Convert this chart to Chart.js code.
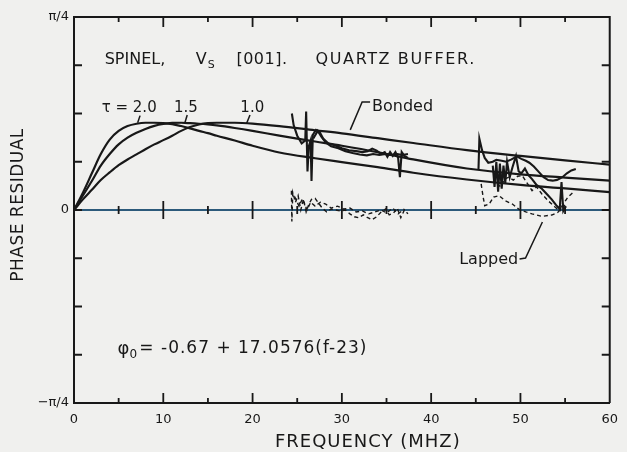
<!DOCTYPE html>
<html>
<head>
<meta charset="utf-8">
<script src="https://cdn.jsdelivr.net/npm/chart.js@4"></script>
<style>
  html, body { margin: 0; padding: 0; background: #f0f0ee; }
  #phaseChart { display: block; }
</style>
</head>
<body>
<canvas id="phaseChart" width="627" height="452"></canvas>
<script>
// phase residual in units of pi/4, frequency in MHz

// fitted curves for three values of tau
const fitFreq = [0, 1, 2, 3, 4, 5, 6, 7, 8, 9, 10, 11, 12, 13, 14, 15, 16, 18, 20, 23, 27, 30, 34, 38, 44, 50, 55, 60];
const tau20 = [0, 0.09, 0.19, 0.29, 0.365, 0.41, 0.435, 0.447, 0.452, 0.452, 0.45, 0.445, 0.435, 0.423, 0.41, 0.398, 0.385, 0.36, 0.333, 0.298, 0.268, 0.248, 0.222, 0.193, 0.158, 0.13, 0.112, 0.093];
const tau15 = [0, 0.075, 0.15, 0.23, 0.29, 0.34, 0.375, 0.4, 0.42, 0.436, 0.446, 0.451, 0.452, 0.45, 0.447, 0.443, 0.438, 0.425, 0.41, 0.385, 0.355, 0.333, 0.3, 0.262, 0.215, 0.185, 0.168, 0.152];
const tau10 = [0, 0.055, 0.105, 0.155, 0.195, 0.232, 0.262, 0.288, 0.315, 0.34, 0.362, 0.385, 0.41, 0.43, 0.443, 0.45, 0.452, 0.452, 0.448, 0.435, 0.413, 0.397, 0.372, 0.347, 0.31, 0.28, 0.257, 0.235];

// measured, bonded transducer [MHz, residual]
const bonded1a = [[24.4, 0.5], [24.6, 0.44], [25.0, 0.385], [25.5, 0.345], [25.9, 0.36], [26.0, 0.51], [26.15, 0.2], [26.3, 0.33], [26.5, 0.36], [26.6, 0.15], [26.75, 0.39], [27.1, 0.415], [27.5, 0.405], [27.9, 0.37], [28.5, 0.345], [29.2, 0.335], [30.0, 0.32], [30.8, 0.31], [31.6, 0.305], [32.3, 0.3], [32.9, 0.305], [33.4, 0.318], [33.9, 0.308], [34.4, 0.29], [34.8, 0.3], [35.1, 0.275], [35.4, 0.3], [35.7, 0.28], [36.0, 0.3], [36.3, 0.27], [36.5, 0.17], [36.7, 0.3], [37.0, 0.28], [37.4, 0.27]];
const bonded1b = [[26.8, 0.37], [27.3, 0.41], [27.7, 0.38], [28.2, 0.35], [28.8, 0.33], [29.6, 0.32], [30.4, 0.305], [31.2, 0.295], [32.0, 0.288], [32.8, 0.283], [33.5, 0.29], [34.2, 0.285], [34.9, 0.29], [35.5, 0.285], [36.2, 0.29], [36.8, 0.285], [37.4, 0.29]];
const bonded2a = [[45.3, 0.21], [45.4, 0.37], [45.7, 0.31], [46.0, 0.27], [46.4, 0.245], [46.9, 0.25], [47.3, 0.26], [47.9, 0.255], [48.4, 0.25], [49.0, 0.262], [49.6, 0.278], [50.1, 0.265], [50.6, 0.255], [51.0, 0.245], [51.5, 0.225], [52.1, 0.195], [52.6, 0.17], [53.1, 0.155], [53.6, 0.152], [54.1, 0.156], [54.7, 0.17], [55.2, 0.19], [55.7, 0.205], [56.2, 0.212]];
const bonded2b = [[46.9, 0.23], [47.1, 0.12], [47.3, 0.25], [47.5, 0.095], [47.7, 0.24], [47.9, 0.11], [48.1, 0.23], [48.3, 0.14], [48.5, 0.25], [48.8, 0.17], [49.1, 0.22], [49.5, 0.28], [49.8, 0.2], [50.1, 0.19], [50.5, 0.215], [50.9, 0.18], [51.3, 0.16], [51.8, 0.13], [52.4, 0.11], [53.0, 0.08], [53.5, 0.055], [54.0, 0.025], [54.4, 0.005], [54.6, 0.145], [54.8, -0.005], [55.1, 0.02]];

// measured, lapped transducer
const lapped1a = [[24.35, 0.1], [24.4, -0.06], [24.5, 0.09], [24.8, 0.04], [25.1, 0.075], [25.4, 0.0], [25.7, 0.055], [26.0, -0.01], [26.3, 0.03], [26.6, 0.055], [27.0, 0.06], [27.4, 0.035], [27.8, 0.01], [28.3, -0.01], [28.8, 0.005], [29.3, 0.0], [29.8, -0.005], [30.4, 0.0], [30.9, -0.02], [31.4, -0.035], [31.9, -0.04], [32.4, -0.025], [32.9, -0.04], [33.4, -0.05], [33.9, -0.035], [34.4, -0.01], [34.9, 0.005], [35.3, -0.025], [35.8, -0.015], [36.2, 0.01], [36.6, -0.04], [37.0, 0.0], [37.4, -0.02]];
const lapped1b = [[24.7, 0.07], [25.2, 0.02], [25.6, 0.06], [26.1, 0.0], [26.5, 0.04], [27.0, 0.02], [27.6, 0.04], [28.2, 0.03], [28.8, 0.01], [29.5, 0.02], [30.2, 0.005], [30.9, 0.01], [31.6, -0.01], [32.3, -0.005], [33.0, -0.02], [33.7, -0.01], [34.4, 0.0], [35.0, -0.015], [35.7, 0.01], [36.3, -0.02], [37.0, 0.005]];
const lapped2a = [[45.6, 0.135], [45.8, 0.074], [46.0, 0.022], [46.5, 0.031], [47.0, 0.067], [47.6, 0.074], [48.3, 0.048], [49.1, 0.031], [49.8, 0.005], [50.6, -0.01], [51.3, -0.02], [52.4, -0.033], [53.5, -0.026], [54.2, -0.012], [54.8, 0.031], [55.3, 0.066], [55.9, 0.092]];
const lapped2b = [[47.4, 0.135], [47.8, 0.12], [48.2, 0.16], [48.7, 0.17], [49.2, 0.155], [49.7, 0.175], [50.2, 0.178], [50.7, 0.143], [51.3, 0.1], [51.8, 0.12], [52.4, 0.083], [53.1, 0.048], [53.9, 0.014], [54.4, -0.004], [54.7, 0.03], [55.0, 0.02]];

// axis ticks
const yLabelValues = [-1, 0, 1];
const yLabelTexts = ["\u2212\u03c0/4", "0", "\u03c0/4"];

const ink = "#181818";
const fontName = "'DejaVu Sans', sans-serif";

const fromArrays = (xs, ys) => xs.map((f, i) => ({ x: f, y: ys[i] }));
const fromPairs = (pairs) => pairs.map(([f, v]) => ({ x: f, y: v }));

function trace(data, width, dash, smooth) {
  return {
    data: data,
    showLine: true,
    borderColor: ink,
    borderWidth: width,
    borderDash: dash || [],
    pointRadius: 0,
    fill: false,
    tension: 0,
    cubicInterpolationMode: smooth ? "monotone" : "default",
  };
}

// zero line under the data, box and inward ticks over it
const frame = {
  id: "frame",
  beforeDatasetsDraw(chart) {
    const { ctx, chartArea: a, scales: { y } } = chart;
    const y0 = y.getPixelForValue(0);
    ctx.save();
    ctx.strokeStyle = "#2c5a7a";
    ctx.lineWidth = 2;
    ctx.beginPath();
    ctx.moveTo(a.left, y0);
    ctx.lineTo(a.right, y0);
    ctx.stroke();
    ctx.restore();
  },
  afterDatasetsDraw(chart) {
    const { ctx, chartArea: a, scales: { x, y } } = chart;
    const y0 = y.getPixelForValue(0);
    ctx.save();
    ctx.strokeStyle = ink;
    ctx.lineWidth = 2;
    ctx.beginPath();
    ctx.moveTo(a.left, a.top);
    ctx.lineTo(a.right, a.top);
    ctx.lineTo(a.right, a.bottom);
    ctx.stroke();

    ctx.lineWidth = 1.8;
    ctx.beginPath();
    for (let f = 5; f < 60; f += 5) {
      const p = x.getPixelForValue(f);
      const major = f % 10 === 0;
      const len = major ? 10 : 5;
      ctx.moveTo(p, a.bottom);
      ctx.lineTo(p, a.bottom - len);
      ctx.moveTo(p, a.top);
      ctx.lineTo(p, a.top + len);
      const half = major ? 9 : 4;
      ctx.moveTo(p, y0 - half);
      ctx.lineTo(p, y0 + half);
    }
    for (let v = -0.75; v <= 0.75; v += 0.25) {
      const p = y.getPixelForValue(v);
      ctx.moveTo(a.left, p);
      ctx.lineTo(a.left + 8, p);
      ctx.moveTo(a.right, p);
      ctx.lineTo(a.right - 8, p);
    }
    ctx.stroke();
    ctx.restore();
  },
};

// lettering placed in data coordinates
const notes = {
  id: "notes",
  afterDraw(chart) {
    const { ctx, scales: { x, y } } = chart;
    const px = (f) => x.getPixelForValue(f);
    const py = (v) => y.getPixelForValue(v);
    ctx.save();
    ctx.fillStyle = ink;
    ctx.strokeStyle = ink;
    ctx.textBaseline = "middle";
    ctx.textAlign = "left";

    function text(str, xp, yp, size, spacing) {
      ctx.font = size + "px " + fontName;
      ctx.letterSpacing = (spacing || 0) + "px";
      ctx.fillText(str, xp, yp);
      const w = ctx.measureText(str).width;
      ctx.letterSpacing = "0px";
      return xp + w;
    }
    function leader(points) {
      ctx.lineWidth = 1.5;
      ctx.beginPath();
      points.forEach(([f, v], i) => (i ? ctx.lineTo(px(f), py(v)) : ctx.moveTo(px(f), py(v))));
      ctx.stroke();
    }

    // heading
    const hy = py(0.777);
    text("SPINEL,", px(3.44), hy, 16);
    const vEnd = text("V", px(13.64), hy, 16);
    text("S", vEnd + 1, hy + 5, 11);
    text("[001].", px(18.19), hy, 16, 0.5);
    text("QUARTZ BUFFER.", px(27.06), hy, 16, 1.6);

    // tau labels
    const ty = py(0.528);
    text("\u03c4 = 2.0", px(3.1), ty, 15);
    text("1.5", px(11.2), ty, 15);
    text("1.0", px(18.63), ty, 15);
    leader([[7.4, 0.489], [7.13, 0.452]]);
    leader([[12.68, 0.492], [12.42, 0.452]]);
    leader([[19.71, 0.492], [19.33, 0.449]]);

    // bonded / lapped
    text("Bonded", px(33.38), py(0.534), 16);
    leader([[33.16, 0.56], [32.27, 0.56], [30.94, 0.415]]);
    text("Lapped", px(43.14), py(-0.259), 16);
    leader([[49.9, -0.254], [50.57, -0.249], [52.46, -0.062]]);

    // fit formula
    const ey = py(-0.72);
    const phiEnd = text("\u03c6", px(4.88), ey, 18);
    text("0", phiEnd, ey + 6, 12);
    text("= -0.67 + 17.0576(f-23)", px(7.32), ey, 17, 1);

    // axis titles
    text("FREQUENCY (MHZ)", px(22.5), py(-1.205), 18, 1);
    ctx.translate(px(-6.21), py(0.026));
    ctx.rotate(-Math.PI / 2);
    ctx.textAlign = "center";
    text("PHASE RESIDUAL", 0, 0, 17, 0.5);
    ctx.restore();
  },
};

const phaseChart = new Chart(document.getElementById("phaseChart"), {
  type: "scatter",
  data: {
    datasets: [
      trace(fromArrays(fitFreq, tau20), 2.2, null, true),
      trace(fromArrays(fitFreq, tau15), 2.2, null, true),
      trace(fromArrays(fitFreq, tau10), 2.2, null, true),
      trace(fromPairs(bonded1a), 2.1),
      trace(fromPairs(bonded1b), 2.1),
      trace(fromPairs(bonded2a), 2.1),
      trace(fromPairs(bonded2b), 2.1),
      trace(fromPairs(lapped1a), 1.4, [4, 3]),
      trace(fromPairs(lapped1b), 1.4, [4, 3]),
      trace(fromPairs(lapped2a), 1.4, [4, 3]),
      trace(fromPairs(lapped2b), 1.4, [4, 3]),
    ],
  },
  options: {
    responsive: false,
    devicePixelRatio: 1,
    animation: false,
    layout: { padding: { left: 0, right: 12, top: 17, bottom: 0 } },
    plugins: { legend: { display: false }, tooltip: { enabled: false } },
    scales: {
      x: {
        type: "linear",
        min: 0,
        max: 60,
        afterFit: (scale) => { scale.height = 49; },
        grid: { display: false, drawTicks: false, tickLength: 0 },
        border: { display: true, color: ink, width: 2 },
        ticks: {
          stepSize: 10,
          padding: 9,
          color: ink,
          font: { family: fontName, size: 13 },
          maxRotation: 0,
          callback: (v) => String(v),
        },
      },
      y: {
        type: "linear",
        min: -1,
        max: 1,
        afterFit: (scale) => { scale.width = 74; },
        afterBuildTicks: (scale) => { scale.ticks = yLabelValues.map((v) => ({ value: v })); },
        grid: { display: false, drawTicks: false, tickLength: 0 },
        border: { display: true, color: ink, width: 2 },
        ticks: {
          padding: 5,
          color: ink,
          font: { family: fontName, size: 13 },
          callback: (v) => yLabelTexts[yLabelValues.indexOf(v)],
        },
      },
    },
  },
  plugins: [frame, notes],
});
</script>
</body>
</html>
